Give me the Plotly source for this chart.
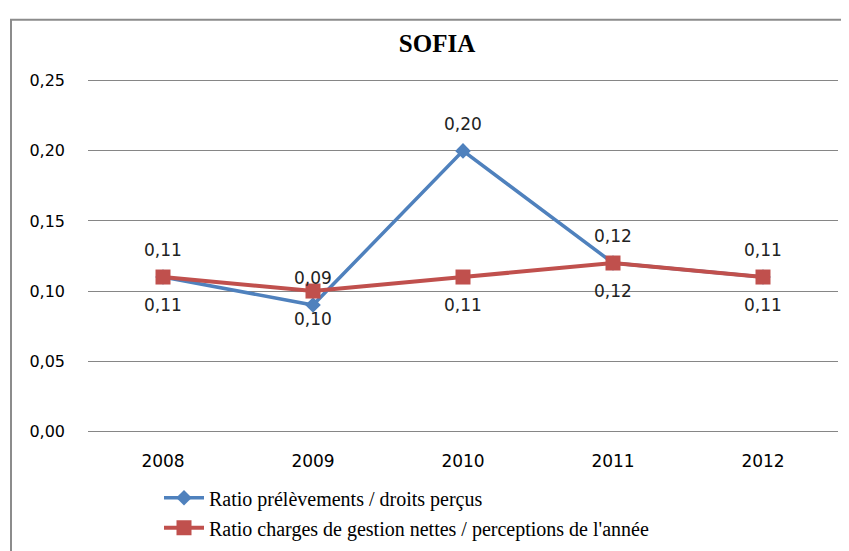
import plotly.graph_objects as go

years = ["2008", "2009", "2010", "2011", "2012"]
ratio_prelevements = [0.11, 0.09, 0.20, 0.12, 0.11]
ratio_charges = [0.11, 0.10, 0.11, 0.12, 0.11]
label_prelevements = ["0,11", "0,09", "0,20", "0,12", "0,11"]
label_charges = ["0,11", "0,10", "0,11", "0,12", "0,11"]
y_ticks = [0.0, 0.05, 0.10, 0.15, 0.20, 0.25]

name_a = "Ratio prélèvements / droits perçus"
name_b = "Ratio charges de gestion nettes / perceptions de l'année"

BLUE = "#4F81BD"
RED = "#C0504D"

# page has an 8px body margin: figure is placed at (8, 8)
OFF = 8
W, H = 849 - OFF, 551 - OFF
PAD = 0.002                      # small range padding so edge gridlines stay visible
PX_PER_UNIT = 350 / 0.25
pad_px = PAD * PX_PER_UNIT
plot_top = 81 - pad_px           # page coords
plot_bot = 431 + pad_px
plot_h = plot_bot - plot_top

def py(page_y):
    return (plot_bot - page_y) / plot_h

def px(page_x):
    return (page_x - 88) / 750

fig = go.Figure()
fig.add_trace(go.Scatter(
    x=years, y=ratio_prelevements, name=name_a, mode="lines+markers",
    line=dict(color=BLUE, width=3.5),
    marker=dict(symbol="diamond", size=12, color=BLUE),
    legendgroup="a",
))
fig.add_trace(go.Scatter(
    x=years, y=ratio_charges, name=name_b, mode="lines+markers",
    line=dict(color=RED, width=4),
    marker=dict(symbol="square", size=15, color=RED),
    legendgroup="b",
))

lab_font = dict(family="DejaVu Sans", size=17, color="#222222")
for i, (y, t) in enumerate(zip(ratio_prelevements, label_prelevements)):
    fig.add_annotation(x=i, y=y, xref="x", yref="y", text=t, showarrow=False,
                       yshift=27, font=lab_font)
for i, (y, t) in enumerate(zip(ratio_charges, label_charges)):
    fig.add_annotation(x=i, y=y, xref="x", yref="y", text=t, showarrow=False,
                       yshift=-28, font=lab_font)

# outer chart border
fig.add_shape(type="rect", xref="paper", yref="paper",
              x0=px(11), x1=px(847), y0=py(600), y1=py(20),
              line=dict(color="#8C8C8C", width=2), fillcolor="rgba(0,0,0,0)")

fig.update_layout(
    width=W, height=H,
    margin=dict(l=88 - OFF, r=W - (88 - OFF) - 750, t=plot_top - OFF, b=551 - plot_bot,
                autoexpand=False),
    paper_bgcolor="white", plot_bgcolor="white",
    separators=", ",
    title=dict(text="<b>SOFIA</b>", x=(437 - OFF) / W, xanchor="center",
               y=1 - (43 - OFF) / H, yanchor="middle", xref="container", yref="container",
               font=dict(family="Liberation Serif", size=25, color="#000000")),
    showlegend=True,
    legend=dict(x=px(159), y=py(478), xanchor="left", yanchor="top",
                orientation="v", traceorder="grouped", tracegroupgap=1,
                font=dict(family="Liberation Serif", size=20, color="#000000"),
                bgcolor="rgba(0,0,0,0)", itemwidth=40),
    xaxis=dict(type="category", range=[-0.5, 4.5], showgrid=False, zeroline=False,
               showline=False, ticks="", ticklabelstandoff=15,
               tickfont=dict(family="DejaVu Sans", size=17, color="#000000")),
    yaxis=dict(range=[-PAD, 0.25 + PAD], tickvals=y_ticks, tickformat=".2f",
               showgrid=True, gridcolor="#868686", gridwidth=1,
               zeroline=False, showline=False, ticks="", ticklabelstandoff=22,
               tickfont=dict(family="DejaVu Sans", size=16, color="#000000")),
)

fig.write_html("out.html")
